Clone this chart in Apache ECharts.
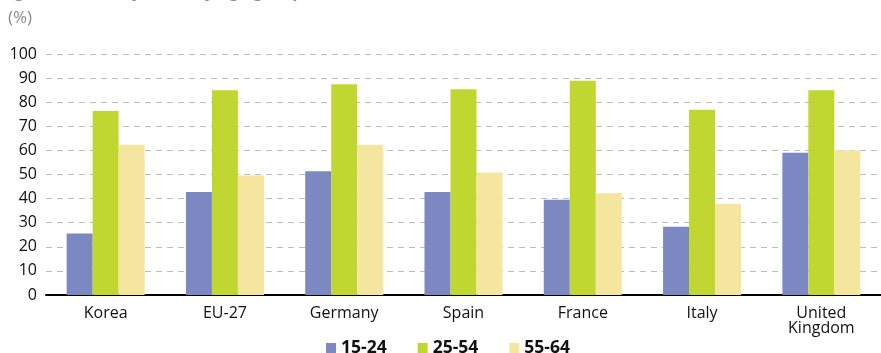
<!DOCTYPE html>
<html>
<head>
<meta charset="utf-8">
<script src="https://cdn.jsdelivr.net/npm/echarts@6/dist/echarts.min.js"></script>
<style>html,body{margin:0;padding:0;background:#fff}#c{width:881px;height:353px}</style>
</head>
<body>
<div id="c"></div>
<script>
const categories = ['Korea', 'EU-27', 'Germany', 'Spain', 'France', 'Italy', 'United\nKingdom'];
const age15_24 = [25.5, 42.7, 51.4, 42.7, 39.5, 28.3, 59.0];
const age25_54 = [76.3, 85.0, 87.5, 85.4, 88.9, 76.9, 85.0];
const age55_64 = [62.3, 49.6, 62.3, 50.8, 42.2, 37.9, 60.1];
const yTicks = [0, 10, 20, 30, 40, 50, 60, 70, 80, 90, 100];

const FONT = '"Open Sans", "Noto Sans", sans-serif';
const chart = echarts.init(document.getElementById('c'), null, {renderer: 'canvas'});
const barStyle = (c) => ({type: 'bar', barWidth: 26, barGap: '0%', itemStyle: {color: c}});
chart.setOption({
  animation: false,
  textStyle: {fontFamily: FONT},
  graphic: [
    {type: 'text', left: 0, top: -16, style: {text: 'Figure 3: Activity rates by age group, 2010', fontFamily: FONT, fontSize: 17, fontWeight: 'bold', fill: '#8a8a8a'}},
    {type: 'text', left: 8, top: 10, style: {text: '(%)', fontFamily: FONT, fontSize: 17, fill: '#8a8a8a'}}
  ],
  legend: {
    top: 334, left: 321, itemWidth: 10, itemHeight: 10, itemGap: 31, icon: 'rect',
    textStyle: {fontFamily: FONT, fontSize: 17.5, fontWeight: 'bold', color: '#111'},
    data: ['15-24', '25-54', '55-64']
  },
  grid: {left: 46, top: 54, bottom: 58, width: 838},
  xAxis: {
    type: 'category', data: categories,
    axisLine: {lineStyle: {color: '#000', width: 2}},
    axisTick: {length: 5, lineStyle: {color: '#000', width: 2}},
    axisLabel: {fontFamily: FONT, fontSize: 16, color: '#111', margin: 11, lineHeight: 15}
  },
  yAxis: {
    type: 'value', min: 0, max: 100, interval: 10,
    axisLine: {show: false}, axisTick: {show: false},
    axisLabel: {fontFamily: FONT, fontSize: 16, color: '#111', margin: 9,
      formatter: v => yTicks.includes(v) ? String(v) : ''},
    splitLine: {lineStyle: {color: '#bdbdbd', type: [6, 5], width: 1}}
  },
  series: [
    Object.assign({name: '15-24', data: age15_24}, barStyle('#7b88c2')),
    Object.assign({name: '25-54', data: age25_54}, barStyle('#c0d731')),
    Object.assign({name: '55-64', data: age55_64}, barStyle('#f5e69f'))
  ]
});
</script>
</body>
</html>
